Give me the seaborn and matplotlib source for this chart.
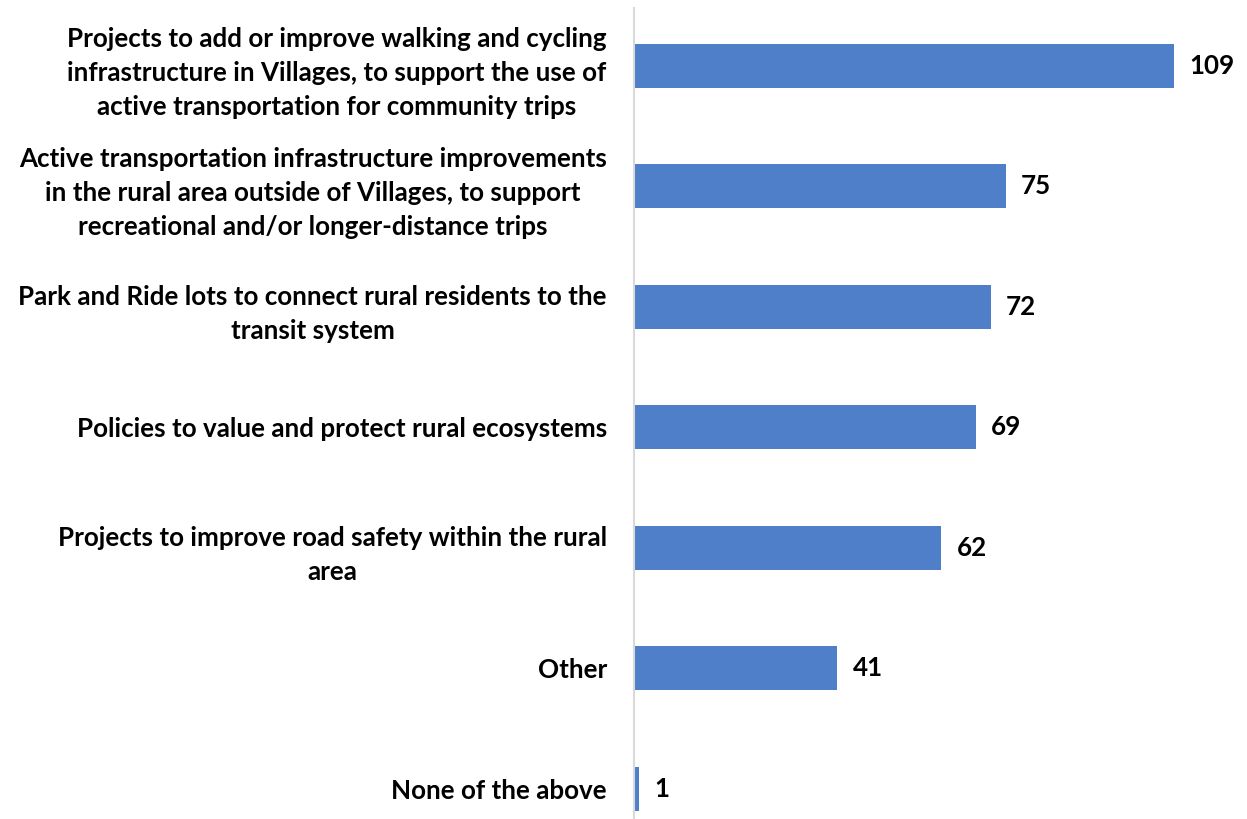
import matplotlib
matplotlib.use("Agg")
import matplotlib.pyplot as plt
import seaborn as sns
import pandas as pd

categories = [
    "Projects to add or improve walking and cycling\ninfrastructure in Villages, to support the use of\nactive transportation for community trips",
    "Active transportation infrastructure improvements\nin the rural area outside of Villages, to support\nrecreational and/or longer-distance trips",
    "Park and Ride lots to connect rural residents to the\ntransit system",
    "Policies to value and protect rural ecosystems",
    "Projects to improve road safety within the rural\narea",
    "Other",
    "None of the above",
]
counts = [109, 75, 72, 69, 62, 41, 1]

sns.set_theme(style="white")
plt.rcParams["font.family"] = ["Lato", "DejaVu Sans"]

df = pd.DataFrame({"category": categories, "count": counts})

fig = plt.figure(figsize=(12.47, 8.19), dpi=100)
ax = fig.add_axes([634 / 1247, 0.0, 1 - 634 / 1247, 1 - 8 / 819])

bar_color = "#4F7FC9"
sns.barplot(data=df, x="count", y="category", orient="h", color=bar_color,
            width=0.365, saturation=1, ax=ax, edgecolor="none")

ax.set_xlim(0, 123.7)
ax.set_ylim(6.25, -0.48)

for spine in ["top", "right", "bottom"]:
    ax.spines[spine].set_visible(False)
ax.spines["left"].set_color("#D9D9D9")
ax.spines["left"].set_linewidth(1.5)

ax.set_xticks([])
ax.set_xlabel("")
ax.set_ylabel("")
ax.tick_params(axis="y", length=0, pad=19.5)
for lbl in ax.get_yticklabels():
    lbl.set_fontsize(18.7)
    lbl.set_fontweight("bold")
    lbl.set_color("black")
    lbl.set_multialignment("center")
    lbl.set_linespacing(1.5)

for i, v in enumerate(counts):
    ax.annotate(str(v), xy=(v, i), xytext=(11, 0), textcoords="offset points",
                ha="left", va="center", fontsize=18.7, fontweight="bold",
                color="black", annotation_clip=False)

fig.savefig("out.png", dpi=100)
